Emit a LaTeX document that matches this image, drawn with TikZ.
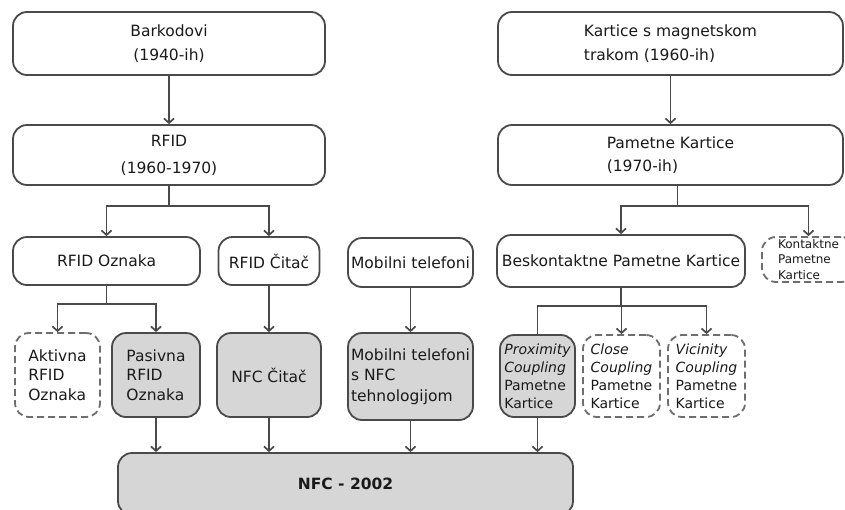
\documentclass[tikz,border=0pt]{standalone}
\usepackage{fontspec}
\setmainfont{DejaVu Sans}[ItalicFont={DejaVu Sans Oblique},BoldFont={DejaVu Sans Bold},BoldItalicFont={DejaVu Sans Bold Oblique}]
\usetikzlibrary{arrows.meta}
\definecolor{ln}{HTML}{4A4A4A}
\definecolor{dl}{HTML}{6E6E6E}
\definecolor{fillg}{HTML}{D6D6D6}
\definecolor{txt}{HTML}{1A1A1A}
\begin{document}
\begin{tikzpicture}[x=1pt,y=-1pt,
  box/.style={draw=ln, line width=1.8pt, rounded corners=14pt, fill=white, text=txt,
    inner sep=0pt, align=center, font=\fontsize{15.5}{24}\selectfont},
  dbox/.style={box, draw=dl, dash pattern=on 7pt off 4pt},
  gbox/.style={box, fill=fillg},
  con/.style={draw=ln, line width=1.7pt},
  arr/.style={con, -{Straight Barb[length=4.5pt,width=10pt]}},
]
\useasboundingbox (0,0) rectangle (845,509);
\clip (0,0) rectangle (845,509);
\fill[white] (0,0) rectangle (845,509);

% top rows
\node[box, minimum width=312pt, minimum height=63pt] (bark) at (169,43.5) {Barkodovi\\(1940-ih)};
\node[box, minimum width=312pt, minimum height=60pt, font=\fontsize{15.5}{27}\selectfont] (rfid) at (169,155) {RFID\\(1960-1970)};
\node[box, align=left, minimum width=345pt, minimum height=63pt] (kart) at (670.5,43.5) {Kartice s magnetskom\\trakom (1960-ih)};
\node[box, align=left, minimum width=345pt, minimum height=60pt, font=\fontsize{15.5}{23}\selectfont] (pam) at (670.5,155) {Pametne Kartice\\(1970-ih)};

% third row
\node[box, minimum width=187pt, minimum height=48pt] (rtag) at (106.5,261) {RFID Oznaka};
\node[box, minimum width=101pt, minimum height=48pt] (rread) at (269,261) {RFID Čitač};
\node[box, minimum width=125pt, minimum height=49pt] (mob) at (410.5,262.5) {Mobilni telefoni};
\node[box, minimum width=248pt, minimum height=52pt] (besk) at (621,261) {Beskontaktne Pametne Kartice};
\node[dbox, align=left, minimum width=93pt, minimum height=45pt, font=\fontsize{12}{15.5}\selectfont] (kont) at (808.5,259.5) {Kontaktne\\Pametne\\Kartice};

% fourth row
\node[dbox, align=left, minimum width=85pt, minimum height=84pt, font=\fontsize{15.5}{19.5}\selectfont] (akt) at (57.5,375) {Aktivna\\RFID\\Oznaka};
\node[gbox, align=left, minimum width=88pt, minimum height=84pt, font=\fontsize{15.5}{19.5}\selectfont] (pas) at (156,375) {Pasivna\\RFID\\Oznaka};
\node[gbox, minimum width=104pt, minimum height=84pt] (nfcr) at (269,375) {NFC Čitač};
\node[gbox, align=left, minimum width=125pt, minimum height=87pt, font=\fontsize{15.5}{20.5}\selectfont] (mobn) at (410.5,376.5) {Mobilni telefoni\\s NFC\\tehnologijom};
\node[gbox, align=left, minimum width=75pt, minimum height=82pt, font=\fontsize{14}{18}\selectfont] (prox) at (537.5,376) {\textit{Proximity}\\\textit{Coupling}\\Pametne\\Kartice};
\node[dbox, align=left, minimum width=77pt, minimum height=82pt, font=\fontsize{14}{18}\selectfont] (close) at (621.5,376) {\textit{Close}\\\textit{Coupling}\\Pametne\\Kartice};
\node[dbox, align=left, minimum width=77pt, minimum height=82pt, font=\fontsize{14}{18}\selectfont] (vic) at (706.5,376) {\textit{Vicinity}\\\textit{Coupling}\\Pametne\\Kartice};

% bottom
\node[gbox, minimum width=455pt, minimum height=62pt, font=\fontsize{15.5}{19}\selectfont\bfseries] (nfc) at (345.5,484) {NFC - 2002};

% connectors
\draw[arr] (bark) -- (rfid);
\draw[arr] (kart) -- (pam);

\coordinate (j1) at ([yshift=-20pt]rfid.south);
\draw[con] (rfid.south) -- (j1);
\draw[arr] (j1) -| (rtag.north);
\draw[arr] (j1) -| (rread.north);

\coordinate (j2) at ([xshift=7pt,yshift=-20pt]pam.south);
\draw[con] (j2 |- pam.south) -- (j2);
\draw[arr] (j2) -| (besk.north);
\draw[arr] (j2) -| (kont.north);

\coordinate (j3) at ([yshift=-18pt]rtag.south);
\draw[con] (rtag.south) -- (j3);
\draw[arr] (j3) -| (akt.north);
\draw[arr] (j3) -| (pas.north);

\draw[arr] (rread.south) -- (nfcr.north);
\draw[arr] (mob) -- (mobn);

\coordinate (j4) at ([yshift=-18pt]besk.south);
\draw[con] (besk.south) -- (j4);
\draw[con] (j4) -| (prox.north);
\draw[arr] (j4) -| (close.north);
\draw[arr] (j4) -| (vic.north);

\draw[arr] (pas.south) -- (pas.south |- nfc.north);
\draw[arr] (nfcr.south) -- (nfcr.south |- nfc.north);
\draw[arr] (mobn.south) -- (mobn.south |- nfc.north);
\draw[arr] (prox.south) -- (prox.south |- nfc.north);
\end{tikzpicture}
\end{document}
